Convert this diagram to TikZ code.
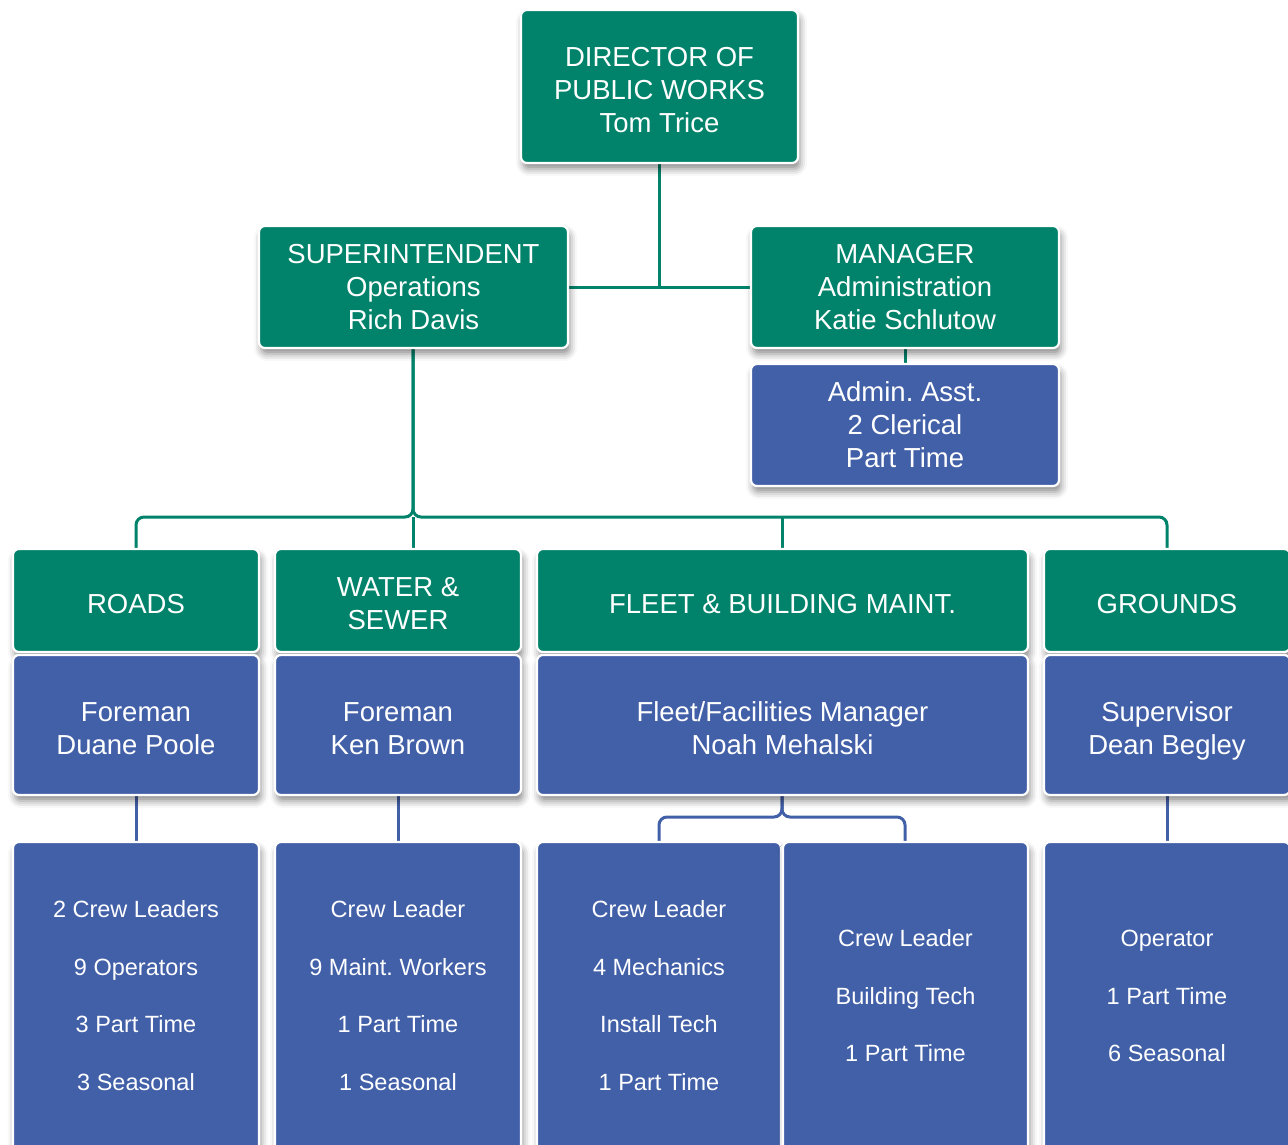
\documentclass[tikz,border=0pt]{standalone}
\usepackage{fontspec}
\setmainfont{Liberation Sans}
\frenchspacing
\usetikzlibrary{shadows.blur}
\definecolor{pwgreen}{HTML}{00836A}
\definecolor{pwblue}{HTML}{4260A8}
\newcommand\topst{\rule{0pt}{31.7pt}}
\newcommand\topstb{\rule{0pt}{24pt}}
\newcommand\botst{\rule[-6pt]{0pt}{0pt}}
\tikzset{
  box/.style={rectangle, rounded corners=6pt, draw=white, line width=2.2pt, text=white, align=center,
    inner sep=0pt, blur shadow={shadow xshift=2pt, shadow yshift=-6pt, shadow blur radius=7pt, shadow opacity=45},
    font=\fontsize{27.5}{33}\selectfont\frenchspacing},
  gbox/.style={box, fill=pwgreen},
  bbox/.style={box, fill=pwblue},
  small/.style={text=white, align=center, font=\fontsize{23.5}{57.5}\selectfont\frenchspacing},
  gline/.style={draw=pwgreen, line width=3pt, rounded corners=8pt},
  bline/.style={draw=pwblue, line width=3pt, rounded corners=8pt},
}
\begin{document}
\begin{tikzpicture}[x=1pt,y=-1pt]
\useasboundingbox (0,0) rectangle (1288,1144);
\clip (0,0) rectangle (1288,1144);
% connectors (drawn first)
\coordinate (bus) at (413,517);
\coordinate (jd) at (659.5,287);
\draw[gline] (659.5,163) -- (jd);
\draw[gline] (568,287) -- (751,287);
\draw[gline] (905,348) -- (905,364);
\draw[gline] (413,348) -- (bus) -- (136,517) -- (136,549);
\draw[gline] (413,348) -- (bus) -- (1167,517) -- (1167,549);
\draw[gline] (bus) -- (413,549);
\draw[gline] (782,517) -- (782,549);
\draw[bline] (136,795) -- (136,842);
\draw[bline] (398,795) -- (398,842);
\draw[bline] (1167,795) -- (1167,842);
\coordinate (fj) at (782,817);
\draw[bline] (782,795) -- (fj) -- (659,817) -- (659,842);
\draw[bline] (782,795) -- (fj) -- (905,817) -- (905,842);

% top level
\node[gbox, minimum width=277, minimum height=153] (dir) at (659.5,86.5) {\topst DIRECTOR OF\\PUBLIC WORKS\\Tom Trice\botst};
\node[gbox, minimum width=309, minimum height=122] (sup) at (413.5,287) {\topstb SUPERINTENDENT\\Operations\\Rich Davis\botst};
\node[gbox, minimum width=308, minimum height=122] (mgr) at (905,287) {\topstb MANAGER\\Administration\\Katie Schlutow\botst};
\node[bbox, minimum width=308, minimum height=122] (adm) at (905,425) {\topstb Admin. Asst.\\2 Clerical\\Part Time\botst};

% department headers
\node[gbox, minimum width=246, minimum height=103] (roads) at (136,600.5) {\topst ROADS\botst};
\node[gbox, minimum width=246, minimum height=103] (water) at (398,600.5) {\topst WATER \&\\SEWER\botst};
\node[gbox, minimum width=491, minimum height=103] (fleet) at (782.5,600.5) {\topst FLEET \& BUILDING MAINT.\botst};
\node[gbox, minimum width=246, minimum height=103] (grounds) at (1167,600.5) {\topst GROUNDS\botst};

% foremen
\node[bbox, minimum width=246, minimum height=140] (fr) at (136,725) {\topst Foreman\\Duane Poole\botst};
\node[bbox, minimum width=246, minimum height=140] (fw) at (398,725) {\topst Foreman\\Ken Brown\botst};
\node[bbox, minimum width=491, minimum height=140] (ff) at (782.5,725) {\topst Fleet/Facilities Manager\\Noah Mehalski\botst};
\node[bbox, minimum width=246, minimum height=140] (fg) at (1167,725) {\topst Supervisor\\Dean Begley\botst};

% bottom staff boxes
\node[bbox, minimum width=246, minimum height=340] (sr) at (136,1012) {};
\node[bbox, minimum width=246, minimum height=340] (sw) at (398,1012) {};
\node[bbox, minimum width=244, minimum height=340] (sf1) at (659,1012) {};
\node[bbox, minimum width=245, minimum height=340] (sf2) at (905.5,1012) {};
\node[bbox, minimum width=246, minimum height=340] (sg) at (1167,1012) {};

\node[small] (tr) at (136,995.5) {2 Crew Leaders\\9 Operators\\3 Part Time\\3 Seasonal};
\node[small] (tw) at (398,995.5) {Crew Leader\\9 Maint. Workers\\1 Part Time\\1 Seasonal};
\node[small] (tf1) at (659,995.5) {Crew Leader\\4 Mechanics\\Install Tech\\1 Part Time};
\node[small] (tf2) at (905.5,996) {Crew Leader\\Building Tech\\1 Part Time};
\node[small] (tg) at (1167,996) {Operator\\1 Part Time\\6 Seasonal};
\end{tikzpicture}
\end{document}
